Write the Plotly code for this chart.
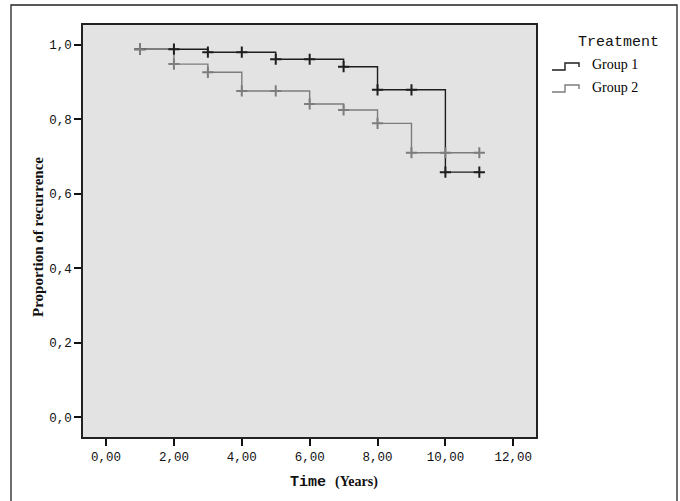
import plotly.graph_objects as go

# ---- data ----
time_years = [1, 2, 3, 4, 5, 6, 7, 8, 9, 10, 11]
group1_surv = [0.988, 0.988, 0.980, 0.980, 0.961, 0.961, 0.941, 0.879, 0.879, 0.658, 0.658]
group2_surv = [0.988, 0.948, 0.926, 0.876, 0.876, 0.841, 0.825, 0.789, 0.710, 0.710, 0.710]
series_names = ["Group 1", "Group 2"]
series_colors = ["#1e1e1e", "#7d7d7d"]

x_tickvals = [0, 2, 4, 6, 8, 10, 12]
x_ticktext = ["0,00", "2,00", "4,00", "6,00", "8,00", "10,00", "12,00"]
y_tickvals = [0.0, 0.2, 0.4, 0.6, 0.8, 1.0]
y_ticktext = ["0,0", "0,2", "0,4", "0,6", "0,8", "1,0"]

W, H = 680, 501
L, R, T, B = 83, 144, 25, 64
PW, PH = W - L - R, H - T - B


def px(x):
    return (x - L) / PW


def py(y):
    return (H - B - y) / PH


MONO = "Liberation Mono, Courier New, monospace"
SERIF = "Liberation Serif, Times New Roman, serif"

fig = go.Figure()
for name, surv, col in zip(series_names, [group1_surv, group2_surv], series_colors):
    fig.add_trace(go.Scatter(
        x=time_years, y=surv, name=name, mode="lines",
        line=dict(shape="hv", color=col, width=1.4),
        showlegend=False, hoverinfo="skip"))
for name, surv, col in zip(series_names, [group1_surv, group2_surv], series_colors):
    fig.add_trace(go.Scatter(
        x=time_years, y=surv, name=name + " censored", mode="markers",
        marker=dict(symbol="cross-thin", size=8, line=dict(color=col, width=2)),
        showlegend=False, hoverinfo="skip"))

shapes = []
# outer frame
shapes.append(dict(type="rect", xref="paper", yref="paper",
                   x0=px(11), x1=px(677), y0=py(520), y1=py(5),
                   line=dict(color="#222222", width=1.3), layer="below"))
# legend step icons
for i, col in enumerate(series_colors):
    yo = 22 * i
    pts = [(552, 70 + yo), (565, 70 + yo), (565, 63 + yo), (579, 63 + yo), (579, 67 + yo)]
    path = "M " + " L ".join(f"{px(a)},{py(b)}" for a, b in pts)
    shapes.append(dict(type="path", xref="paper", yref="paper", path=path,
                       line=dict(color=col, width=1.4)))

annotations = [
    dict(text="Treatment", x=px(576), y=py(43), xref="paper", yref="paper",
         xanchor="left", yanchor="middle", showarrow=False,
         font=dict(family=MONO, size=15, color="#111111")),
    dict(text="Group 1", x=px(590), y=py(65), xref="paper", yref="paper",
         xanchor="left", yanchor="middle", showarrow=False,
         font=dict(family=SERIF, size=14, color="#000000")),
    dict(text="Group 2", x=px(590), y=py(87), xref="paper", yref="paper",
         xanchor="left", yanchor="middle", showarrow=False,
         font=dict(family=SERIF, size=14, color="#000000")),
    dict(text="<b>Time</b> <span style='font-family:Liberation Serif;font-size:14px'><b>(Years)</b></span>",
         x=px(334), y=py(482), xref="paper", yref="paper",
         xanchor="center", yanchor="middle", showarrow=False,
         font=dict(family=MONO, size=15, color="#111111")),
    dict(text="<b>Proportion of recurrence</b>", x=px(38), y=py(237),
         xref="paper", yref="paper", textangle=-90,
         xanchor="center", yanchor="middle", showarrow=False,
         font=dict(family=SERIF, size=15, color="#111111")),
]

fig.update_layout(
    width=W, height=H,
    margin=dict(l=L, r=R, t=T, b=B, pad=0),
    paper_bgcolor="white", plot_bgcolor="#e3e3e3",
    shapes=shapes, annotations=annotations,
    xaxis=dict(range=[-0.68, 12.67], tickvals=x_tickvals, ticktext=x_ticktext,
               ticks="outside", ticklen=7, tickwidth=2, tickcolor="#111111",
               showgrid=False, zeroline=False,
               showline=True, mirror=True, linecolor="#222222", linewidth=1.6,
               tickfont=dict(family=MONO, size=12.5, color="#111111")),
    yaxis=dict(range=[-0.053, 1.053], tickvals=y_tickvals, ticktext=y_ticktext,
               ticks="outside", ticklen=7, tickwidth=2, tickcolor="#111111",
               showgrid=False, zeroline=False,
               showline=True, mirror=True, linecolor="#222222", linewidth=1.6,
               tickfont=dict(family=MONO, size=12.5, color="#111111")),
)

fig.write_html(
    "out.html",
    config={"displayModeBar": False},
    post_script="document.body.style.margin='0';document.body.style.overflow='hidden';",
)
